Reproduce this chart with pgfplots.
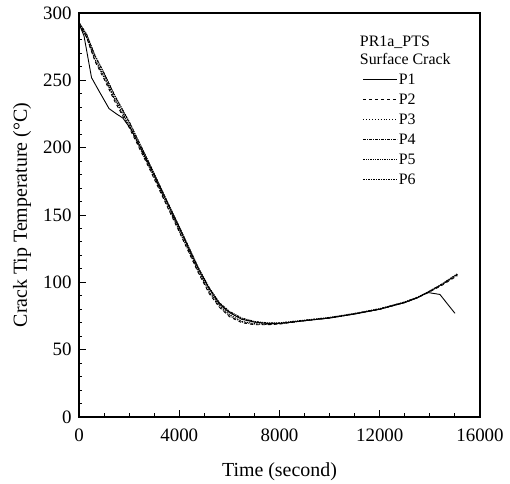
\documentclass[border=0pt]{standalone}
\usepackage{pgfplots}
\pgfplotsset{compat=1.18}
\usepackage{fontspec}
\setmainfont{Liberation Serif}
\usetikzlibrary{calc}

\pgfplotstableread{
t T
0 292
200 283
500 252
800 242
1200 229
1500 225
1750 222
2100 213
2833 186
3500 160
4000 140.5
4762 110
5200 95
5600 84
6000 77.5
6500 72.5
7000 70.5
7500 69.5
8000 69.5
9000 71.5
10000 73.5
11000 76.5
12000 80
13000 85
13500 88.5
13900 92.5
14400 91
15000 77
}\pone

\pgfplotstableread{
t T
0 292
300 282
640 264
1000 251
1437 234
2000 215
2833 183.5
3500 157
4000 137.5
4762 107
5200 91.5
5600 81.5
6000 74.5
6500 70
7000 68.5
7500 68.5
8000 69
9000 71.5
10000 73.5
11000 76.5
12000 80
13000 85
13500 88.5
13900 92
14500 98
15100 105
}\ptwo

\pgfplotstableread{
t T
0 292
300 282.5
640 265
1000 252
1437 235
2000 216
2833 184
3500 157.5
4000 138
4762 107.5
5200 92
5600 82
6000 75
6500 70.5
7000 68.8
7500 68.8
8000 69.2
9000 71.6
10000 73.6
11000 76.6
12000 80.2
13000 85.2
13500 88.8
13900 92.3
14500 98.5
15100 105.5
}\pthree

\pgfplotstableread{
t T
0 293
300 284
640 268
1000 255
1437 238
2000 219
2833 187
3500 160.5
4000 141
4762 110.5
5200 95.5
5600 84.5
6000 78
6500 73
7000 70.5
7500 69.5
8000 69.5
9000 71.5
10000 73.5
11000 76.5
12000 80
13000 85
13500 88.5
13900 92.3
14500 98.8
15100 106
}\pfour

\pgfplotstableread{
t T
0 293
300 284.5
640 268.5
1000 255.5
1437 238.5
2000 219.5
2833 187.5
3500 161
4000 141.5
4762 111
5200 96
5600 85
6000 78.5
6500 73.5
7000 71
7500 70
8000 70
9000 72
10000 74
11000 77
12000 80.5
13000 85.5
13500 89
13900 92.6
14500 99
15100 106.5
}\pfive

\pgfplotstableread{
t T
0 292
300 282
640 265.5
1000 253
1437 236
2000 217
2833 185
3500 158.5
4000 139
4762 108.5
5200 93
5600 83
6000 76
6500 71
7000 69.3
7500 69
8000 69.3
9000 71.6
10000 73.7
11000 76.7
12000 80.3
13000 85.3
13500 88.8
13900 92.4
14500 98.6
15100 105.8
}\psix

\begin{document}
\begin{tikzpicture}
\begin{axis}[
  scale only axis, width=401bp, height=404bp,
  xmin=0, xmax=16000, ymin=0, ymax=300,
  xtick={0,4000,...,16000}, minor x tick num=3,
  ytick={0,50,...,300}, minor y tick num=4,
  tick align=inside, xtick pos=bottom, ytick pos=left,
  major tick length=7bp, minor tick length=3.5bp,
  scaled x ticks=false,
  /pgf/number format/1000 sep={},
  /pgf/number format/assume math mode=true,
  tick label style={font=\fontsize{19}{19}\selectfont},
  xticklabel style={yshift=-8bp},
  yticklabel style={xshift=-4bp},
  label style={font=\fontsize{20}{20}\selectfont},
  xlabel={Time (second)},
  ylabel={Crack Tip Temperature (°C)},
  xlabel style={at={(axis description cs:0.5,-0.135)}, anchor=center},
  ylabel style={at={(axis description cs:-0.142,0.5)}, anchor=center},
  axis line style={line width=1.3bp},
  every tick/.style={black, line width=0.9bp},
  legend style={at={(rel axis cs:0.70,0.858)}, anchor=north west, draw=none, fill=none,
    font=\fontsize{16}{16}\selectfont, row sep=6bp, nodes={inner sep=1bp}},
  legend cell align=left,
  legend image code/.code={\draw[#1] (0bp,0bp) -- (34bp,0bp);},
  every axis plot/.append style={black, line width=0.9bp},
]
\addplot[solid] table[x=t,y=T] {\pone};
\addlegendentry{P1}
\addplot[dashed] table[x=t,y=T] {\ptwo};
\addlegendentry{P2}
\addplot[dotted] table[x=t,y=T] {\pthree};
\addlegendentry{P3}
\addplot[dash pattern=on 3bp off 1bp on 1bp off 1bp] table[x=t,y=T] {\pfour};
\addlegendentry{P4}
\addplot[dash pattern=on 2bp off 1bp on 1bp off 1bp on 1bp off 1bp] table[x=t,y=T] {\pfive};
\addlegendentry{P5}
\addplot[dash pattern=on 1.5bp off 1bp] table[x=t,y=T] {\psix};
\addlegendentry{P6}
\node[anchor=west, font=\fontsize{16}{16}\selectfont, inner sep=0pt] at (rel axis cs:0.70,0.928) {PR1a\_PTS};
\node[anchor=west, font=\fontsize{16}{16}\selectfont, inner sep=0pt] at (rel axis cs:0.70,0.886) {Surface Crack};
\coordinate (sw) at (rel axis cs:0,0);
\coordinate (ne) at (rel axis cs:1,1);
\end{axis}
\useasboundingbox ($(sw)+(-79bp,-66bp)$) rectangle ($(ne)+(30bp,13bp)$);
\end{tikzpicture}
\end{document}
